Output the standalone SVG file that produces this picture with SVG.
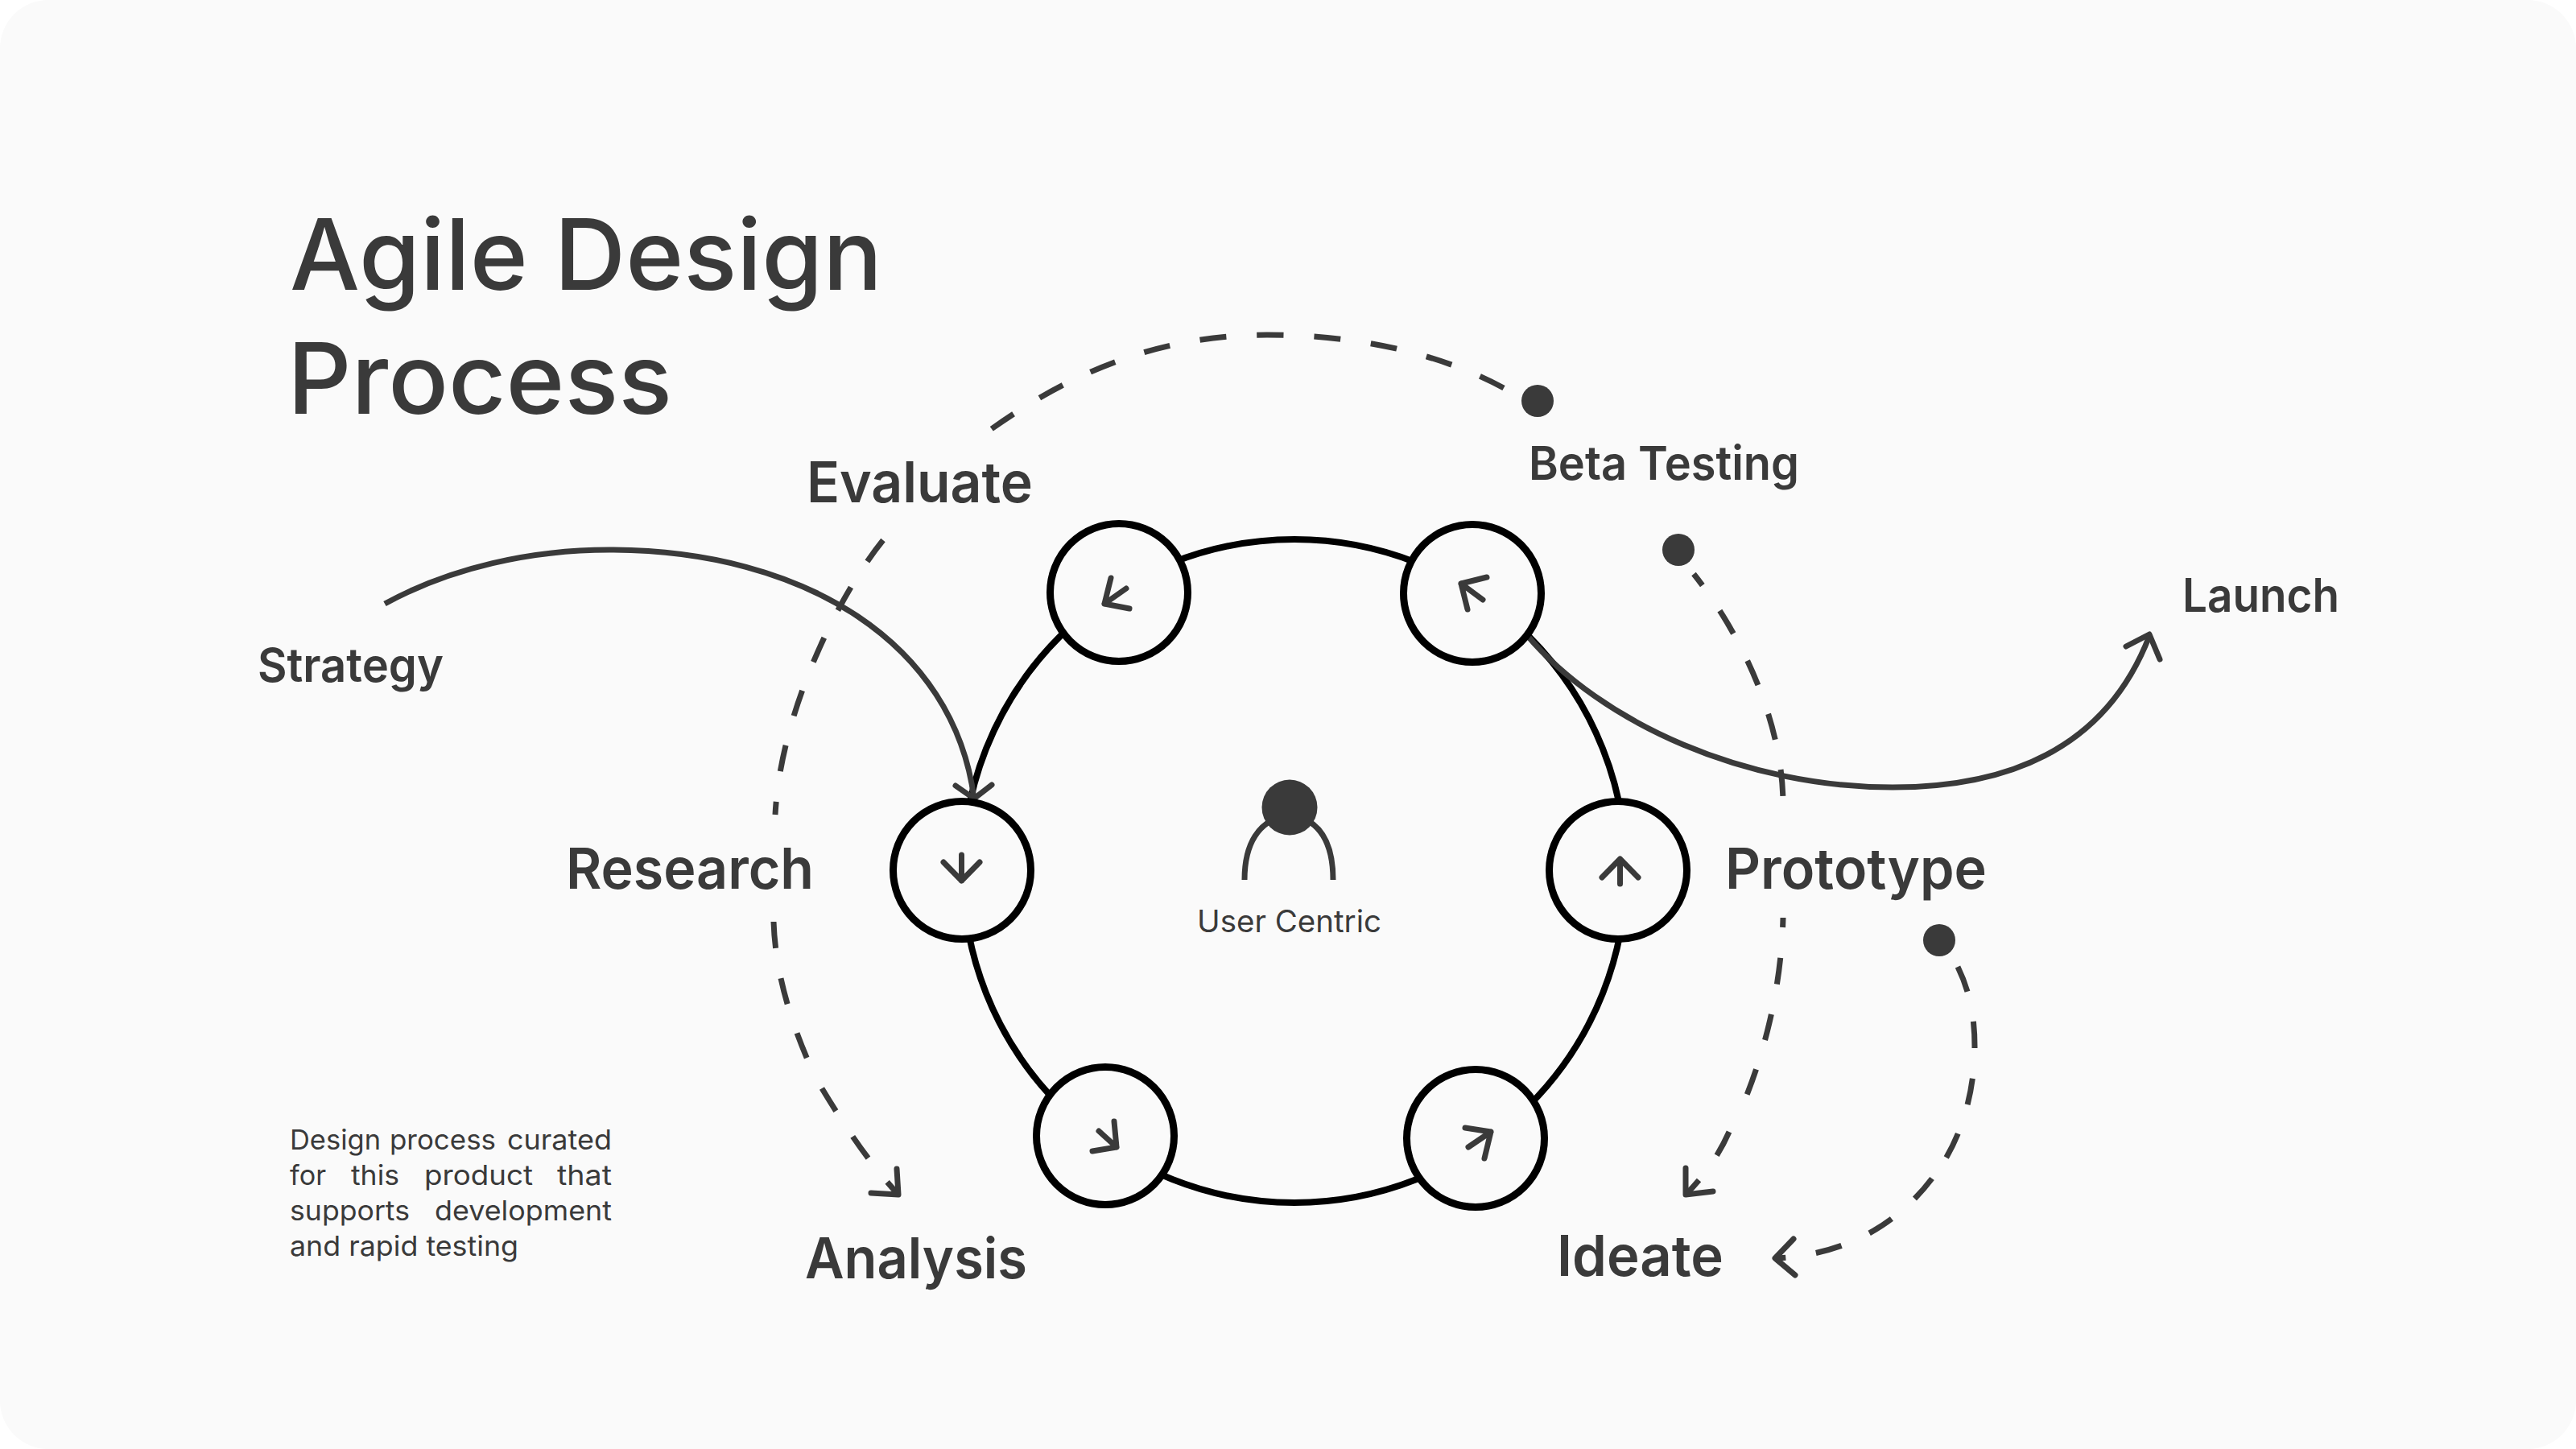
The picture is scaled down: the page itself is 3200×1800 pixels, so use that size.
<svg xmlns="http://www.w3.org/2000/svg" width="3200" height="1800" viewBox="0 0 3200 1800">
<style>
text{font-family:"Inter","Noto Sans","Liberation Sans",sans-serif;fill:#3a3a3a}
.title{font-size:122px;font-weight:500}
.big{font-size:70px;font-weight:600}
.mid{font-size:58px;font-weight:600}
.small{font-size:38px;font-weight:400}
.desc{font-size:34px;font-weight:400}
.dash{fill:none;stroke:#3a3a3a;stroke-width:7;stroke-dasharray:33 38}
.line{fill:none;stroke:#3a3a3a;stroke-width:7}
.head{fill:none;stroke:#3a3a3a;stroke-width:7;stroke-linecap:round;stroke-linejoin:round}
.ring{fill:none;stroke:#000;stroke-width:8}
.node{fill:#fafafa;stroke:#000;stroke-width:9}
.icon{fill:none;stroke:#3a3a3a;stroke-width:7;stroke-linecap:round;stroke-linejoin:round}
.dot{fill:#3a3a3a}
</style>
<rect width="3200" height="1800" fill="#fff"/>
<rect width="3200" height="1800" rx="60" fill="#fafafa"/>
<g id="connectors">
<circle class="ring" cx="1608" cy="1082" r="412"/>
<path class="dash" d="M1868 482C1790 440 1690 416 1574 416C1430 416 1320 470 1230 534"/>
<path class="dash" d="M1097 671C1045 735 970 880 963 1012"/>
<path class="dash" d="M961 1145C963 1205 980 1262 1003 1316"/>
<path class="dash" d="M1021 1352C1050 1400 1080 1445 1116 1484"/>
<path class="head" d="M1114 1452L1116 1484L1082 1482"/>
<path class="dash" stroke-dashoffset="15" d="M2104 713C2165 790 2216 900 2215 1003"/>
<path class="dash" stroke-dashoffset="21" d="M2215 1140C2213 1220 2195 1300 2166 1370"/>
<path class="dash" d="M2148 1406C2135 1435 2118 1460 2094 1484"/>
<path class="head" d="M2094 1451L2094 1484L2128 1480"/>
<path class="dash" d="M2432 1201C2446 1230 2453 1260 2453 1300C2453 1360 2435 1420 2400 1464"/>
<path class="dash" d="M2400 1464C2350 1530 2280 1560 2205 1563"/>
<path class="head" d="M2228 1539L2205 1563L2230 1584"/>
<path class="line" d="M478 750C560 705 660 683 757 683C1000 683 1185 800 1210 992"/>
<path class="head" d="M1187 976L1210 992L1232 975"/>
<path class="line" d="M1896 788C1990 900 2170 978 2351 978C2510 978 2620 920 2670 790"/>
<path class="head" d="M2641 803L2670 788L2683 819"/>
</g>
<g id="node-research"><circle class="node" cx="1195" cy="1081" r="85.500"/><path class="icon" d="M1194.500 1062V1094M1172 1071L1194.500 1094L1217 1071"/></g>
<g id="node-evaluate"><circle class="node" cx="1390" cy="736" r="85.500"/><path class="icon" d="M1399 731L1372 750M1380 718L1372 750L1403 756"/></g>
<g id="node-beta"><circle class="node" cx="1829" cy="737" r="85.500"/><path class="icon" d="M1842 745L1815 725M1847 717L1815 725L1823 757"/></g>
<g id="node-prototype"><circle class="node" cx="2010" cy="1081" r="85.500"/><path class="icon" d="M2012.500 1098V1067M1990 1090L2012.500 1067L2035 1090"/></g>
<g id="node-ideate"><circle class="node" cx="1833" cy="1414" r="85.500"/><path class="icon" d="M1824 1425L1852 1406M1820 1401L1852 1406L1844 1439"/></g>
<g id="node-analysis"><circle class="node" cx="1373" cy="1411" r="85.500"/><path class="icon" d="M1365 1405L1387 1425M1384 1393L1387 1425L1357 1430"/></g>
<g id="user-centric">
<path class="line" d="M1546 1093C1546 1050 1562 1018 1602 1012C1642 1018 1656 1050 1656 1093"/>
<circle class="dot" cx="1602" cy="1003" r="34.500"/>
<text class="small" x="1487" y="1158" textLength="229" lengthAdjust="spacingAndGlyphs">User Centric</text>
</g>
<circle class="dot" id="dot-beta" cx="1910" cy="498" r="20"/>
<circle class="dot" id="dot-proto" cx="2085" cy="683" r="20"/>
<circle class="dot" id="dot-ideate" cx="2409" cy="1168" r="20"/>
<g id="labels">
<text class="title" x="360" y="360" textLength="736" lengthAdjust="spacingAndGlyphs">Agile Design</text>
<text class="title" x="357" y="514" textLength="478" lengthAdjust="spacingAndGlyphs">Process</text>
<text class="big" x="1002" y="624" textLength="281" lengthAdjust="spacingAndGlyphs">Evaluate</text>
<text class="big" x="703" y="1104" textLength="308" lengthAdjust="spacingAndGlyphs">Research</text>
<text class="big" x="1000" y="1588" textLength="276" lengthAdjust="spacingAndGlyphs">Analysis</text>
<text class="big" x="2143" y="1104" textLength="325" lengthAdjust="spacingAndGlyphs">Prototype</text>
<text class="big" x="1934" y="1585" textLength="207" lengthAdjust="spacingAndGlyphs">Ideate</text>
<text class="mid" x="1899" y="596" textLength="336" lengthAdjust="spacingAndGlyphs">Beta Testing</text>
<text class="mid" x="2711" y="760" textLength="195" lengthAdjust="spacingAndGlyphs">Launch</text>
<text class="mid" x="320" y="847" textLength="231" lengthAdjust="spacingAndGlyphs">Strategy</text>
<text class="desc" y="1428"><tspan x="360" textLength="113" lengthAdjust="spacingAndGlyphs">Design</tspan> <tspan x="484" textLength="132" lengthAdjust="spacingAndGlyphs">process</tspan> <tspan x="630" textLength="130" lengthAdjust="spacingAndGlyphs">curated</tspan></text>
<text class="desc" y="1472"><tspan x="360" textLength="45" lengthAdjust="spacingAndGlyphs">for</tspan> <tspan x="436" textLength="60" lengthAdjust="spacingAndGlyphs">this</tspan> <tspan x="527" textLength="135" lengthAdjust="spacingAndGlyphs">product</tspan> <tspan x="692" textLength="68" lengthAdjust="spacingAndGlyphs">that</tspan></text>
<text class="desc" y="1516"><tspan x="360" textLength="149" lengthAdjust="spacingAndGlyphs">supports</tspan> <tspan x="540" textLength="220" lengthAdjust="spacingAndGlyphs">development</tspan></text>
<text class="desc" x="360" y="1560" textLength="284" lengthAdjust="spacingAndGlyphs">and rapid testing</text>
</g>
</svg>
